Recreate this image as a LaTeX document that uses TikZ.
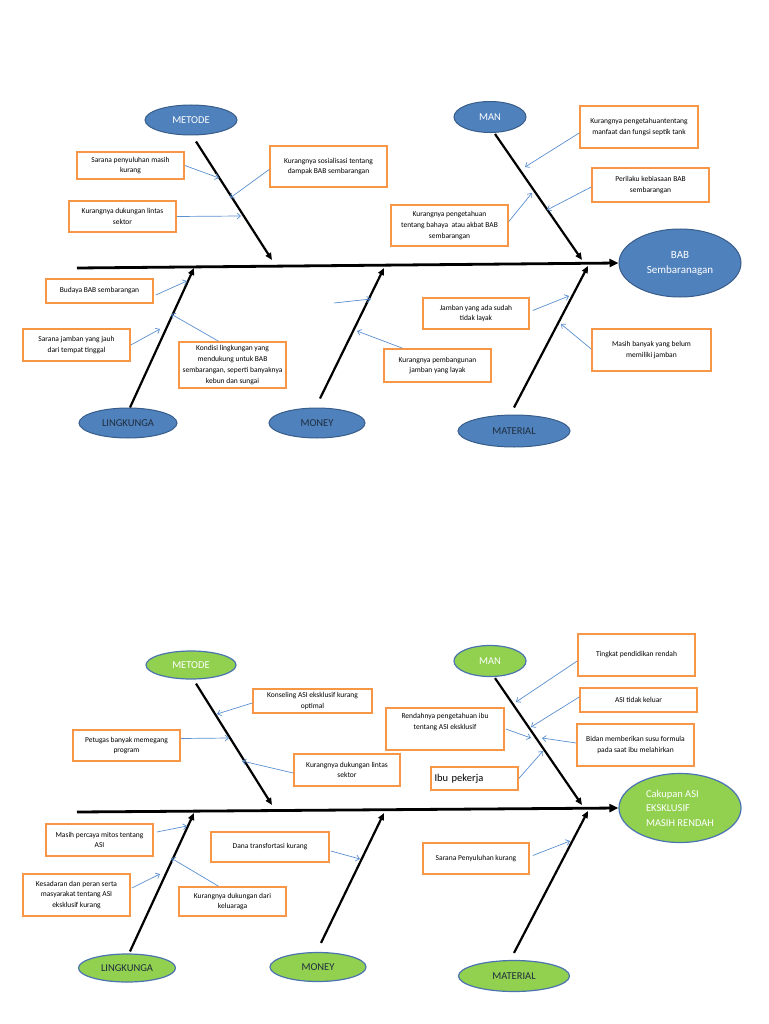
\documentclass[tikz,border=0pt]{standalone}
\usepackage{fontspec}
\setmainfont{Carlito}
\usetikzlibrary{shapes.geometric,arrows.meta}
\definecolor{bfill}{HTML}{4F81BD}
\definecolor{bdraw}{HTML}{385D8A}
\definecolor{gfill}{HTML}{92D050}
\definecolor{gdraw}{HTML}{4A74B0}
\definecolor{obox}{HTML}{F79646}
\definecolor{barr}{HTML}{5B8FD0}
\definecolor{dtext}{HTML}{1F2D3D}
\tikzset{
  box/.style={draw=obox,line width=1.6pt,fill=white,align=center,inner sep=1pt,
    font=\fontsize{7.5}{10.7}\selectfont},
  bell/.style={ellipse,draw=bdraw,line width=1pt,fill=bfill,inner sep=0pt,font=\fontsize{10.5}{12}\selectfont},
  gell/.style={ellipse,draw=gdraw,line width=1.2pt,fill=gfill,inner sep=0pt,font=\fontsize{10.5}{12}\selectfont},
  bone/.style={line width=2.2pt,-{Triangle[length=7pt,width=6pt]}},
  spine/.style={line width=2.8pt,-{Triangle[length=9pt,width=8pt]}},
  barrow/.style={draw=barr,line width=0.7pt,-{Straight Barb[length=3.5pt,width=6pt]}},
}
\newcommand\bx[7][]{\pgfmathsetmacro\bw{#5-#3}\pgfmathsetmacro\bh{#6-#4}%
  \node[box,minimum width=\bw pt,minimum height=\bh pt,#1] (#2) at ({(#3+#5)/2},{(#4+#6)/2}) {#7};}
\begin{document}
\begin{tikzpicture}[x=1pt,y=-1pt]
\useasboundingbox (0,0) rectangle (768,1024);
% ================= TOP DIAGRAM =================
\node[bell,minimum width=92pt,minimum height=30pt,text=white] (tmet) at (191,120) {METODE};
\node[bell,minimum width=72pt,minimum height=31pt,text=white] (tman) at (490,117) {MAN};
\node[bell,minimum width=122pt,minimum height=68pt,text=white,align=center,font=\fontsize{11}{15}\selectfont] (tbab) at (680,263) {BAB\\Sembaranagan};
\node[bell,minimum width=98pt,minimum height=30pt,text=dtext] (tlin) at (128,423) {LINGKUNGA};
\node[bell,minimum width=96pt,minimum height=30pt,text=dtext] (tmon) at (317,423) {MONEY};
\node[bell,minimum width=112pt,minimum height=32pt,text=dtext] (tmat) at (514,431) {MATERIAL};
% spine and bones
\coordinate (tsp0) at (77,268);
\draw[spine] (tsp0) -- (tbab.west);
\coordinate (tb1) at (272,260);
\coordinate (tb2) at (582,260);
\coordinate (tb3) at (194,268);
\coordinate (tb4) at (384,268);
\coordinate (tb5) at (588,266);
\draw[bone] ([xshift=5pt,yshift=-6pt]tmet.south) -- (tb1);
\draw[bone] ([xshift=5pt,yshift=-1pt]tman.south) -- (tb2);
\draw[bone] ([xshift=2pt]tlin.north) -- (tb3);
\draw[bone] ([xshift=3pt,yshift=9pt]tmon.north) -- (tb4);
\draw[bone] ([yshift=7pt]tmat.north) -- (tb5);
% boxes
\bx{t1}{77}{152}{184}{179}{Sarana penyuluhan masih\\kurang}
\bx{t2}{270}{146}{387}{187}{Kurangnya sosialisasi tentang\\dampak BAB sembarangan}
\bx{t3}{69}{201}{176}{232}{Kurangnya dukungan lintas\\sektor}
\bx{t4}{580}{106}{698}{148}{Kurangnya pengetahuantentang\\manfaat dan fungsi septik tank}
\bx{t5}{592}{168}{709}{202}{Perilaku kebiasaan BAB\\sembarangan}
\bx{t6}{391}{205}{508}{246}{Kurangnya pengetahuan\\tentang bahaya\ \ atau akbat BAB\\sembarangan}
\bx{t7}{46}{279}{153}{303}{Budaya BAB sembarangan}
\bx{t8}{23}{329}{130}{361}{Sarana jamban yang jauh\\dari tempat tinggal}
\bx{t9}{179}{342}{286}{388}{Kondisi lingkungan yang\\mendukung untuk BAB\\sembarangan, seperti banyaknya\\kebun dan sungai}
\bx{t10}{423}{298}{529}{329}{Jamban yang ada sudah\\tidak layak}
\bx{t11}{384}{349}{491}{382}{Kurangnya pembangunan\\jamban yang layak}
\bx{t12}{592}{329}{711}{371}{Masih banyak yang belum\\memiliki jamban}
% blue arrows
\coordinate (ta1) at (219,178);
\coordinate (ta2) at (230,198);
\coordinate (ta3) at (241,216);
\coordinate (ta4) at (525,167);
\coordinate (ta5) at (547,210);
\coordinate (ta6) at (532,193);
\coordinate (ta7) at (187,281);
\coordinate (ta8) at (160,329);
\coordinate (ta9) at (171,314);
\coordinate (ta10s) at (334,303);
\coordinate (ta10) at (371,299);
\coordinate (ta11) at (357,331);
\coordinate (ta12) at (569,296);
\coordinate (ta13) at (561,324);
\draw[barrow] (t1.east) -- (ta1);
\draw[barrow] ([yshift=-3pt]t2.west) -- (ta2);
\draw[barrow] (t3.east) -- (ta3);
\draw[barrow] ([yshift=-6pt]t4.west) -- (ta4);
\draw[barrow] ([yshift=-2pt]t5.west) -- (ta5);
\draw[barrow] ([yshift=4pt]t6.east) -- (ta6);
\draw[barrow] ([xshift=2pt,yshift=-4pt]t7.east) -- (ta7);
\draw[barrow] (t8.east) -- (ta8);
\draw[barrow] ([xshift=-14pt]t9.north) -- (ta9);
\draw[barrow] (ta10s) -- (ta10);
\draw[barrow] ([xshift=-35pt]t11.north) -- (ta11);
\draw[barrow] ([xshift=3pt,yshift=3pt]t10.east) -- (ta12);
\draw[barrow] ([yshift=1pt]t12.west) -- (ta13);
% ================= BOTTOM DIAGRAM =================
\node[gell,minimum width=90pt,minimum height=28pt,text=white] (bmet) at (191,665) {METODE};
\node[gell,minimum width=72pt,minimum height=31pt,text=white] (bman) at (490,661) {MAN};
\node[gell,minimum width=122pt,minimum height=69pt,text=white,align=left,font=\fontsize{10.5}{14.5}\selectfont] (bcak) at (680,808) {Cakupan ASI\\EKSKLUSIF\\MASIH RENDAH};
\node[gell,minimum width=97pt,minimum height=28pt,text=dtext] (blin) at (127,968) {LINGKUNGA};
\node[gell,minimum width=96pt,minimum height=29pt,text=dtext] (bmon) at (318,967) {MONEY};
\node[gell,minimum width=111pt,minimum height=31pt,text=dtext] (bmat) at (514,976) {MATERIAL};
\coordinate (bsp0) at (77,812);
\draw[spine] (bsp0) -- (bcak.west);
\coordinate (bb1) at (272,805);
\coordinate (bb2) at (582,805);
\coordinate (bb3) at (194,813);
\coordinate (bb4) at (384,813);
\coordinate (bb5) at (588,811);
\draw[bone] ([xshift=5pt,yshift=-4pt]bmet.south) -- (bb1);
\draw[bone] ([xshift=5pt,yshift=-1pt]bman.south) -- (bb2);
\draw[bone] ([xshift=3pt,yshift=2pt]blin.north) -- (bb3);
\draw[bone] ([xshift=3pt,yshift=9pt]bmon.north) -- (bb4);
\draw[bone] ([yshift=7pt]bmat.north) -- (bb5);
% boxes
\bx{c1}{253}{689}{372}{713}{Konseling ASI eksklusif kurang\\optimal}
\bx{c2}{73}{730}{180}{761}{Petugas banyak memegang\\program}
\bx{c3}{294}{754}{400}{786}{Kurangnya dukungan lintas\\sektor}
\bx{c4}{578}{634}{695}{676}{Tingkat pendidikan rendah}
\bx{c5}{580}{688}{697}{712}{ASI tidak keluar}
\bx{c6}{577}{724}{694}{766}{Bidan memberikan susu formula\\pada saat ibu melahirkan}
\bx[label={[anchor=north,yshift=-3pt,align=center,font=\fontsize{7.5}{10.7}\selectfont]north:Rendahnya pengetahuan ibu\\tentang ASI eksklusif}]{c7}{386}{708}{504}{750}{}
\bx[font=\fontsize{10.5}{12}\selectfont,align=left,text width=80pt]{c8}{431}{767}{518}{790}{Ibu pekerja}
\bx{c9}{46}{824}{153}{856}{Masih percaya mitos tentang\\ASI}
\bx{c10}{23}{874}{130}{916}{Kesadaran dan peran serta\\masyarakat tentang ASI\\eksklusif kurang}
\bx{c11}{179}{887}{286}{916}{Kurangnya dukungan dari\\keluaraga}
\bx{c12}{211}{832}{329}{862}{Dana transfortasi kurang}
\bx{c13}{423}{843}{529}{874}{Sarana Penyuluhan kurang}
% blue arrows
\coordinate (ba1) at (217,714);
\coordinate (ba2) at (229,738);
\coordinate (ba3) at (242,761);
\coordinate (ba4) at (516,702);
\coordinate (ba5) at (531,727);
\coordinate (ba6) at (542,738);
\coordinate (ba7) at (531,738);
\coordinate (ba8) at (543,751);
\coordinate (ba9) at (187,826);
\coordinate (ba10) at (160,874);
\coordinate (ba11) at (171,858);
\coordinate (ba12) at (360,859);
\coordinate (ba13) at (570,841);
\draw[barrow] ([yshift=-2pt]c1.west) -- (ba1);
\draw[barrow] ([yshift=7pt]c2.east) -- (ba2);
\draw[barrow] ([yshift=-3pt]c3.west) -- (ba3);
\draw[barrow] ([yshift=-6pt]c4.west) -- (ba4);
\draw[barrow] ([yshift=3pt]c5.west) -- (ba5);
\draw[barrow] ([yshift=2pt]c6.west) -- (ba6);
\draw[barrow] ([xshift=1pt]c7.east) -- (ba7);
\draw[barrow] (c8.east) -- (ba8);
\draw[barrow] ([xshift=3pt,yshift=8pt]c9.east) -- (ba9);
\draw[barrow] ([xshift=1pt,yshift=7pt]c10.east) -- (ba10);
\draw[barrow] ([xshift=-14pt]c11.north) -- (ba11);
\draw[barrow] ([xshift=1pt,yshift=-4pt]c12.east) -- (ba12);
\draw[barrow] ([xshift=3pt,yshift=3pt]c13.east) -- (ba13);
\end{tikzpicture}
\end{document}
